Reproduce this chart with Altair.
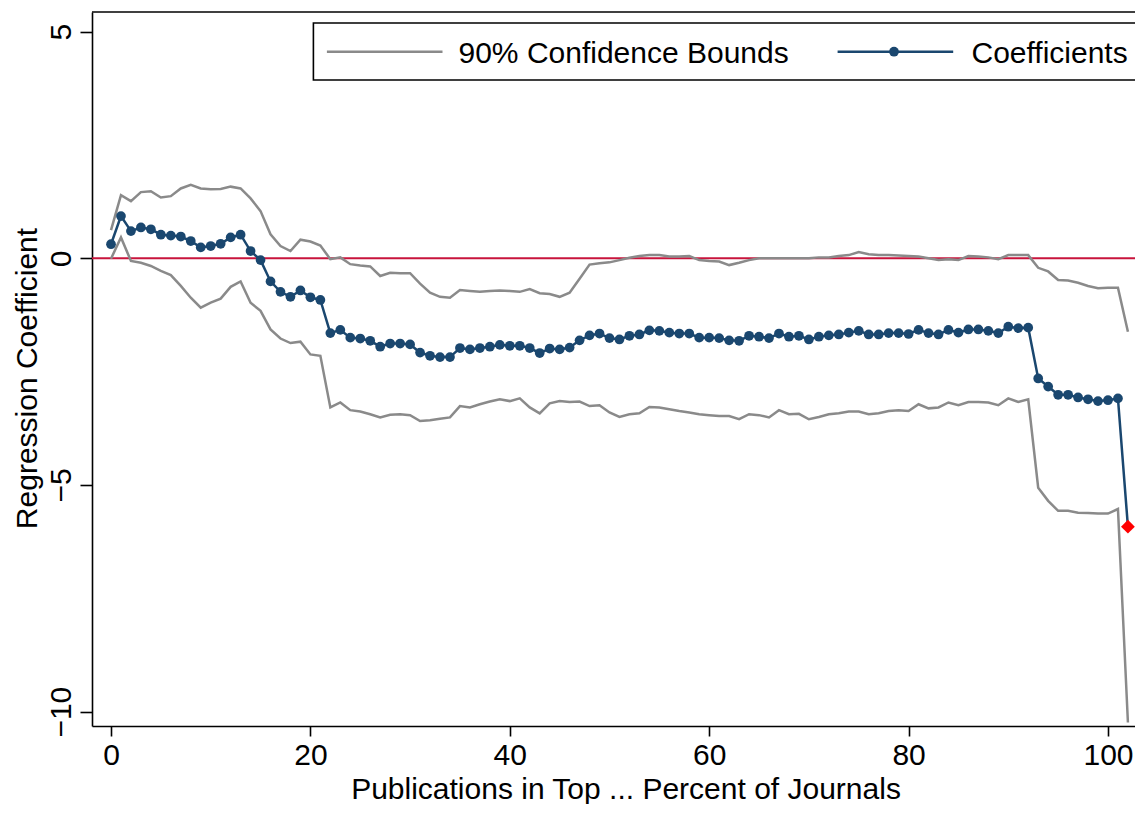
import altair as alt
import pandas as pd

# ---------------- data ----------------
x_vals = list(range(103))

coef = [0.31, 0.93, 0.60, 0.68, 0.64, 0.52, 0.50, 0.48, 0.38, 0.24,
        0.27, 0.32, 0.46, 0.52, 0.16, -0.04, -0.51, -0.74, -0.85, -0.71,
        -0.86, -0.92, -1.65, -1.58, -1.75, -1.77, -1.82, -1.95, -1.88, -1.88,
        -1.90, -2.08, -2.15, -2.18, -2.18, -1.98, -2.01, -1.98, -1.95, -1.91,
        -1.93, -1.93, -1.98, -2.09, -1.99, -2.01, -1.97, -1.81, -1.70, -1.66,
        -1.76, -1.79, -1.71, -1.68, -1.59, -1.60, -1.64, -1.66, -1.66, -1.75,
        -1.75, -1.76, -1.81, -1.82, -1.71, -1.73, -1.76, -1.66, -1.73, -1.71,
        -1.79, -1.73, -1.70, -1.68, -1.64, -1.60, -1.68, -1.68, -1.65, -1.65,
        -1.67, -1.58, -1.65, -1.68, -1.58, -1.64, -1.57, -1.57, -1.60, -1.65,
        -1.51, -1.54, -1.53, -2.65, -2.83, -3.01, -3.01, -3.07, -3.11, -3.15,
        -3.13, -3.09, -5.92]

upper = [0.62, 1.39, 1.26, 1.46, 1.48, 1.34, 1.37, 1.54, 1.62, 1.54,
         1.52, 1.53, 1.58, 1.54, 1.32, 1.04, 0.53, 0.27, 0.16, 0.41,
         0.37, 0.28, -0.02, 0.02, -0.13, -0.16, -0.18, -0.39, -0.32, -0.33,
         -0.33, -0.56, -0.76, -0.85, -0.87, -0.70, -0.72, -0.74, -0.72, -0.71,
         -0.72, -0.74, -0.68, -0.77, -0.79, -0.85, -0.76, -0.45, -0.14, -0.11,
         -0.09, -0.04, 0.01, 0.05, 0.07, 0.07, 0.04, 0.04, 0.05, -0.04,
         -0.06, -0.07, -0.15, -0.10, -0.04, 0.00, 0.00, 0.00, 0.00, 0.00,
         0.00, 0.02, 0.02, 0.05, 0.07, 0.14, 0.09, 0.07, 0.07, 0.06,
         0.05, 0.04, 0.00, -0.04, -0.02, -0.04, 0.05, 0.04, 0.02, -0.02,
         0.07, 0.07, 0.07, -0.21, -0.29, -0.48, -0.49, -0.54, -0.61, -0.66,
         -0.65, -0.65, -1.62]

lower = [-0.01, 0.46, -0.06, -0.10, -0.17, -0.28, -0.37, -0.61, -0.87, -1.09,
         -0.98, -0.89, -0.63, -0.51, -0.98, -1.16, -1.57, -1.77, -1.87, -1.84,
         -2.12, -2.15, -3.29, -3.18, -3.35, -3.38, -3.44, -3.51, -3.45, -3.44,
         -3.46, -3.59, -3.57, -3.54, -3.51, -3.26, -3.29, -3.22, -3.16, -3.11,
         -3.15, -3.09, -3.29, -3.42, -3.20, -3.15, -3.17, -3.16, -3.26, -3.24,
         -3.40, -3.50, -3.44, -3.42, -3.28, -3.29, -3.33, -3.37, -3.40, -3.44,
         -3.46, -3.48, -3.48, -3.55, -3.44, -3.46, -3.51, -3.35, -3.44, -3.43,
         -3.55, -3.50, -3.44, -3.42, -3.38, -3.38, -3.44, -3.42, -3.37, -3.35,
         -3.37, -3.22, -3.31, -3.29, -3.18, -3.24, -3.17, -3.17, -3.18, -3.24,
         -3.09, -3.17, -3.11, -5.06, -5.35, -5.57, -5.57, -5.61, -5.62, -5.63,
         -5.63, -5.53, -10.24]

x_ticks = [0, 20, 40, 60, 80, 100]
y_ticks = [-10, -5, 0, 5]
legend_labels = ["90% Confidence Bounds", "Coefficients"]
x_title = "Publications in Top ... Percent of Journals"
y_title = "Regression Coefficient"
reference_value = [0]

# ---------------- tables ----------------
df = pd.DataFrame({"x": x_vals, "coef": coef, "upper": upper, "lower": lower})
ci = df.melt(id_vars="x", value_vars=["upper", "lower"],
             var_name="bound", value_name="value")
one = pd.DataFrame({"k": [0]})
ref = pd.DataFrame({"y": reference_value})

# ---------------- styles ----------------
NAVY = "#1a476f"
GRAY = "#8a8a8a"
RED_LINE = "#c8143c"
FONT = "Liberation Sans"
FS = 30
W, H = 1043, 714

xs = alt.Scale(domain=[-1.906, 102.71], nice=False, zero=False)
ys = alt.Scale(domain=[-10.316, 5.432], nice=False, zero=False)

xaxis = alt.Axis(values=x_ticks, title=x_title, grid=False,
                 domain=True, domainColor="black", domainWidth=1.6,
                 tickSize=10, tickWidth=1.6, tickColor="black",
                 labelFont=FONT, labelFontSize=FS, labelColor="black",
                 labelBaseline="top", labelPadding=4, labelFlush=False,
                 titleFont=FONT, titleFontSize=FS, titleFontWeight="normal",
                 titleColor="black", titleX=533.5, titleY=72,
                 titleBaseline="alphabetic", titleAlign="center")
yaxis = alt.Axis(values=y_ticks, title=y_title, grid=False,
                 domain=True, domainColor="black", domainWidth=1.6,
                 tickSize=12, tickWidth=1.6, tickColor="black",
                 labelFont=FONT, labelFontSize=FS, labelColor="black",
                 labelAngle=270, labelAlign="center", labelBaseline="alphabetic",
                 labelPadding=10, labelFlush=False,
                 titleFont=FONT, titleFontSize=FS, titleFontWeight="normal",
                 titleColor="black", titleAngle=270, titleX=-56, titleY=366,
                 titleBaseline="alphabetic", titleAlign="center")

X = alt.X("x:Q", scale=xs, axis=xaxis)

top_border = alt.Chart(one).mark_rule(color="black", strokeWidth=1.6).encode(
    x=alt.value(0), x2=alt.value(W), y=alt.value(0)
)

zero_line = alt.Chart(ref).mark_rule(color=RED_LINE, strokeWidth=2).encode(
    y=alt.Y("y:Q", scale=ys, axis=yaxis)
)

ci_lines = alt.Chart(ci).mark_line(color=GRAY, strokeWidth=2.5).encode(
    x=X, y=alt.Y("value:Q", scale=ys, axis=yaxis), detail="bound:N"
)

coef_line = alt.Chart(df).mark_line(color=NAVY, strokeWidth=2.5).encode(
    x=X, y=alt.Y("coef:Q", scale=ys, axis=yaxis)
)

coef_pts = alt.Chart(df).transform_filter("datum.x < 102").mark_circle(
    color=NAVY, size=95, opacity=1
).encode(x=X, y=alt.Y("coef:Q", scale=ys, axis=yaxis))

last_pt = alt.Chart(df).transform_filter("datum.x == 102").mark_point(
    shape="diamond", filled=True, color="#ff0000", size=190, opacity=1
).encode(x=X, y=alt.Y("coef:Q", scale=ys, axis=yaxis))

# ---------------- legend (drawn by hand, Stata style) ----------------
leg_box = alt.Chart(one).mark_rect(fill="white", stroke="black", strokeWidth=1.6).encode(
    x=alt.value(221.4), x2=alt.value(1100), y=alt.value(11), y2=alt.value(68)
)
leg_gray = alt.Chart(one).mark_rule(color=GRAY, strokeWidth=2.5).encode(
    x=alt.value(234.9), x2=alt.value(350.5), y=alt.value(39.7)
)
leg_text1 = alt.Chart(one).mark_text(
    align="left", baseline="alphabetic", font=FONT, fontSize=FS, color="black"
).encode(x=alt.value(366.5), y=alt.value(50.5), text=alt.value(legend_labels[0]))
leg_navy = alt.Chart(one).mark_rule(color=NAVY, strokeWidth=2.5).encode(
    x=alt.value(745.6), x2=alt.value(861.2), y=alt.value(39.7)
)
leg_dot = alt.Chart(one).mark_circle(color=NAVY, size=95, opacity=1).encode(
    x=alt.value(802), y=alt.value(39.7)
)
leg_text2 = alt.Chart(one).mark_text(
    align="left", baseline="alphabetic", font=FONT, fontSize=FS, color="black"
).encode(x=alt.value(879.5), y=alt.value(50.5), text=alt.value(legend_labels[1]))

chart = alt.layer(
    top_border, zero_line, ci_lines, coef_line, coef_pts, last_pt,
    leg_box, leg_gray, leg_text1, leg_navy, leg_dot, leg_text2
).properties(
    width=W, height=H,
    autosize=alt.AutoSizeParams(type="none"),
    padding={"left": 84, "top": 4, "right": 0, "bottom": 78},
    background="white",
).configure_view(stroke=None)

chart.save("out.html", embed_options={"renderer": "svg", "actions": False})
